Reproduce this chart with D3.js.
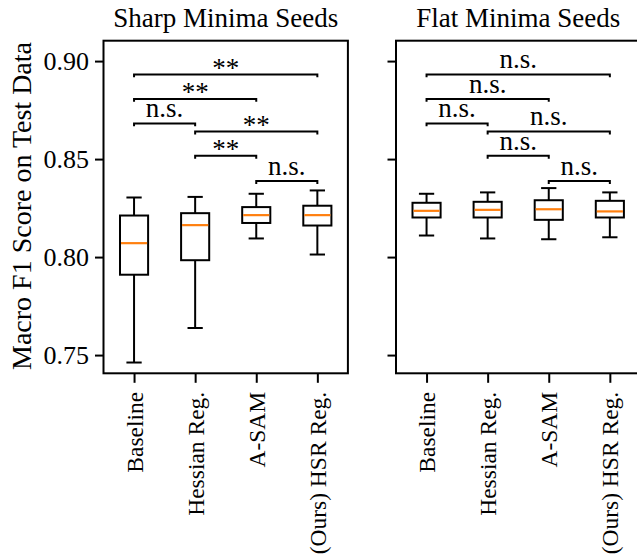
<!DOCTYPE html>
<meta charset="utf-8">
<html lang="en">
<head>
    <title>Boxplot_Seeds</title>
    <script src="https://cdn.jsdelivr.net/npm/d3@7"></script>
</head>
<style>
    body{
        margin: 0;
        background: white;
    }
    svg{
        display: block;
    }
    text{
        fill: black;
        font-family: "Liberation Serif", "Times New Roman", serif;
    }
</style>
<body>
<svg width="637" height="556"></svg>
<script>

    // methods on the x axis
    const methods = ["Baseline", "Hessian Reg.", "A-SAM", "(Ours) HSR Reg."]

    // sharp minima seeds: whisker low, q1, median, q3, whisker high
    const sharpLow    = [0.7462, 0.7638, 0.8095, 0.8013]
    const sharpQ1     = [0.7910, 0.7984, 0.8174, 0.8161]
    const sharpMedian = [0.8071, 0.8163, 0.8214, 0.8214]
    const sharpQ3     = [0.8212, 0.8224, 0.8255, 0.8262]
    const sharpHigh   = [0.8304, 0.8307, 0.8323, 0.8340]

    // flat minima seeds
    const flatLow    = [0.8110, 0.8095, 0.8091, 0.8101]
    const flatQ1     = [0.8202, 0.8202, 0.8190, 0.8202]
    const flatMedian = [0.8236, 0.8241, 0.8244, 0.8233]
    const flatQ3     = [0.8277, 0.8282, 0.8290, 0.8287]
    const flatHigh   = [0.8323, 0.8330, 0.8352, 0.8330]

    // significance brackets (pairs of method indices) and their heights
    const bracketPairs  = [[0, 3], [0, 2], [0, 1], [1, 3], [1, 2], [2, 3]]
    const bracketLevels = [0.8932, 0.8807, 0.8682, 0.8641, 0.8517, 0.8388]
    const sharpSig = ["**", "**", "n.s.", "**", "**", "n.s."]
    const flatSig  = ["n.s.", "n.s.", "n.s.", "n.s.", "n.s.", "n.s."]

    const yTicks = [0.75, 0.80, 0.85, 0.90]
    const yDomain = [0.7407, 0.9104]

    const svg = d3.select("svg")

    const plotTop = 40.7, plotBottom = 373.3, panelW = 244.4
    const y = d3.scaleLinear().domain(yDomain).range([plotBottom, plotTop])

    function toRows(lo, q1, med, q3, hi) {
        return methods.map((m, i) => ({name: m, i: i + 1, lo: lo[i], q1: q1[i], med: med[i], q3: q3[i], hi: hi[i]}))
    }

    function drawPanel(left, title, rows, sig, showYLabels) {
        const x = d3.scaleLinear().domain([0.5, 4.5]).range([left, left + panelW])
        const g = svg.append("g")
        const boxW = x(0.46) - x(0)
        const capW = x(0.25) - x(0)

        // y axis
        const yAxis = d3.axisLeft(y).tickValues(yTicks).tickSize(8.5).tickPadding(6)
            .tickFormat(showYLabels ? d3.format(".2f") : "")
        const ya = g.append("g").attr("transform", `translate(${left},0)`).call(yAxis)
        ya.select(".domain").remove()
        ya.selectAll("line").attr("stroke", "black").attr("stroke-width", 2)
        ya.selectAll("text").style("font-size", "26px").style("font-family", '"Liberation Serif", serif')

        // x axis
        const xAxis = d3.axisBottom(x).tickValues([1, 2, 3, 4]).tickSize(9.5).tickPadding(0)
            .tickFormat((d, i) => methods[i])
        const xa = g.append("g").attr("transform", `translate(0,${plotBottom})`).call(xAxis)
        xa.select(".domain").remove()
        xa.selectAll("line").attr("stroke", "black").attr("stroke-width", 2)
        xa.selectAll("text")
            .style("font-size", "23.5px").style("font-family", '"Liberation Serif", serif')
            .attr("text-anchor", "end")
            .attr("dominant-baseline", "central")
            .attr("y", 0)
            .attr("dy", null)
            .attr("transform", "translate(0,18.5) rotate(-90)")

        // boxes
        const b = g.selectAll(".box").data(rows).enter().append("g")
        b.append("line").attr("x1", d => x(d.i)).attr("x2", d => x(d.i))
            .attr("y1", d => y(d.hi)).attr("y2", d => y(d.q3))
        b.append("line").attr("x1", d => x(d.i)).attr("x2", d => x(d.i))
            .attr("y1", d => y(d.q1)).attr("y2", d => y(d.lo))
        b.append("line").attr("x1", d => x(d.i) - capW / 2).attr("x2", d => x(d.i) + capW / 2)
            .attr("y1", d => y(d.hi)).attr("y2", d => y(d.hi))
        b.append("line").attr("x1", d => x(d.i) - capW / 2).attr("x2", d => x(d.i) + capW / 2)
            .attr("y1", d => y(d.lo)).attr("y2", d => y(d.lo))
        b.append("rect").attr("x", d => x(d.i) - boxW / 2).attr("width", boxW)
            .attr("y", d => y(d.q3)).attr("height", d => y(d.q1) - y(d.q3))
            .attr("fill", "none")
        b.selectAll("line, rect").attr("stroke", "black").attr("stroke-width", 2)
        b.append("line").attr("x1", d => x(d.i) - boxW / 2 + 1).attr("x2", d => x(d.i) + boxW / 2 - 1)
            .attr("y1", d => y(d.med)).attr("y2", d => y(d.med))
            .attr("stroke", "#ff7f0e").attr("stroke-width", 2.2)

        // significance brackets
        const tickH = 0.0015
        bracketPairs.forEach((p, k) => {
            const yl = bracketLevels[k]
            const x1 = x(p[0] + 1), x2 = x(p[1] + 1)
            g.append("path")
                .attr("d", d3.line()([[x1, y(yl - tickH)], [x1, y(yl)], [x2, y(yl)], [x2, y(yl - tickH)]]))
                .attr("fill", "none").attr("stroke", "black").attr("stroke-width", 2)
            g.append("text")
                .attr("x", (x1 + x2) / 2)
                .attr("y", y(yl) - (sig[k] === "**" ? -2.5 : 6))
                .attr("text-anchor", "middle")
                .style("font-size", "27px")
                .text(sig[k])
        })

        // frame
        g.append("rect").attr("x", left).attr("y", plotTop).attr("width", panelW).attr("height", plotBottom - plotTop)
            .attr("fill", "none").attr("stroke", "black").attr("stroke-width", 2)

        g.append("text").attr("x", left + panelW / 2).attr("y", 27)
            .attr("text-anchor", "middle").style("font-size", "27px").text(title)
    }

    drawPanel(103.5, "Sharp Minima Seeds", toRows(sharpLow, sharpQ1, sharpMedian, sharpQ3, sharpHigh), sharpSig, true)
    drawPanel(396, "Flat Minima Seeds", toRows(flatLow, flatQ1, flatMedian, flatQ3, flatHigh), flatSig, false)

    svg.append("text")
        .attr("transform", "translate(21,206) rotate(-90)")
        .attr("text-anchor", "middle")
        .attr("dominant-baseline", "central")
        .style("font-size", "28px")
        .text("Macro F1 Score on Test Data")
</script>
</body>
</html>
